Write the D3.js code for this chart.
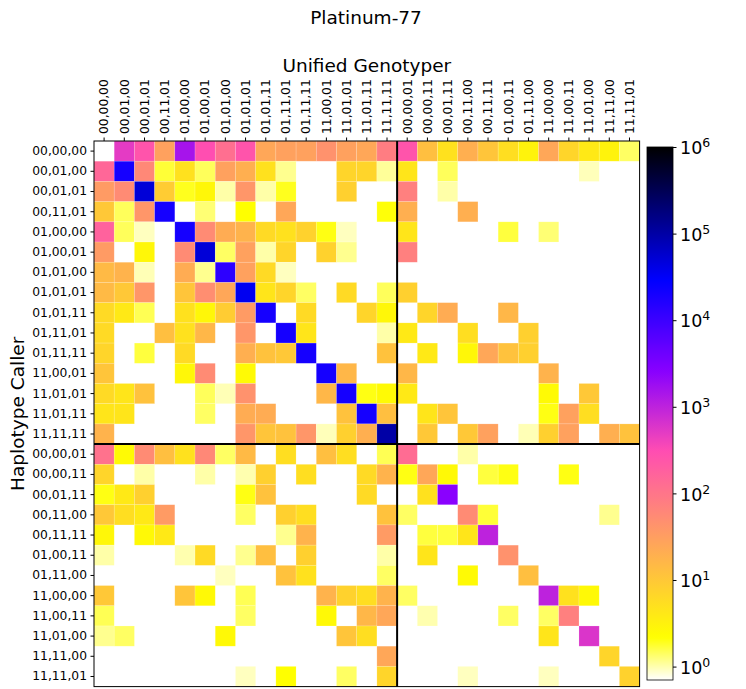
<!DOCTYPE html>
<html>
<head>
<meta charset="utf-8">
<script src="https://cdn.jsdelivr.net/npm/d3@7"></script>
<style>
  body { margin: 0; background: #fff; }
  text { font-family: "DejaVu Sans", sans-serif; }
</style>
</head>
<body>
<svg id="chart"></svg>
<script>
// Genotype concordance heatmap (Haplotype Caller vs Unified Genotyper)
const genotypes = ["00,00,00","00,01,00","00,01,01","00,11,01","01,00,00","01,00,01","01,01,00",
  "01,01,01","01,01,11","01,11,01","01,11,11","11,00,01","11,01,01","11,01,11","11,11,11",
  "00,00,01","00,00,11","00,01,11","00,11,00","00,11,11","01,00,11","01,11,00","11,00,00",
  "11,00,11","11,01,00","11,11,00","11,11,01"];

// rows = Haplotype Caller, columns = Unified Genotyper, 0 = no entry
const counts = [
  [0, 500, 250, 30, 1500, 300, 120, 250, 25, 30, 30, 45, 30, 25, 80, 250, 13, 5, 20, 11, 5.5, 3, 25, 7, 4, 3, 1.4],
  [150, 2e4, 60, 1.7, 5, 1.45, 30, 20, 5, 1.15, 0, 0, 7, 7, 1.1, 4.5, 0, 1.45, 0, 0, 0, 0, 0, 0, 0.95, 0, 0],
  [35, 55, 5e4, 9, 1.9, 2.7, 1.03, 40, 1.03, 1.9, 0, 0, 8, 0, 0, 75, 0, 1.03, 0, 0, 0, 0, 0, 0, 0, 0, 0],
  [10, 1.45, 40, 2e4, 0, 1.3, 0, 2.2, 0, 25, 0, 0, 0, 0, 2.1, 20, 0, 0, 20, 0, 0, 0, 0, 0, 0, 0, 0],
  [170, 1.45, 0.93, 0, 2e4, 55, 22, 18, 6, 5, 7.5, 2, 0.93, 0, 0, 4.5, 0, 0, 0, 0, 1.65, 0, 1.3, 0, 0, 0, 0],
  [35, 0, 2.7, 0, 55, 5e4, 1.4, 30, 1.03, 7, 0, 7.5, 1.15, 0, 0, 75, 0, 0, 0, 0, 0, 0, 0, 0, 0, 0, 0],
  [15, 18, 0.97, 0, 22, 1.15, 1.3e4, 30, 6, 0.93, 0, 0, 0, 0, 0, 0, 0, 0, 0, 0, 0, 0, 0, 0, 0, 0, 0],
  [15, 10, 40, 0, 11, 50, 25, 3.5e4, 4.5, 7, 1.4, 0, 6, 0, 1.45, 8, 0, 0, 0, 0, 0, 0, 0, 0, 0, 0, 0],
  [6, 4, 1.5, 0, 5, 2.7, 9, 35, 2e4, 0, 6, 0, 0, 7, 2.7, 0, 7, 22, 0, 0, 16, 0, 0, 0, 0, 0, 0],
  [6, 0, 0, 13, 5, 16, 0, 40, 0, 2e4, 4.5, 0, 0, 0, 1.03, 4, 0, 0, 5.5, 0, 0, 8, 0, 0, 0, 0, 0],
  [7, 0, 1.65, 0, 6, 0, 0, 20, 12, 10, 2e4, 0, 0, 0, 12, 0, 4, 0, 2.7, 25, 12, 8, 0, 0, 0, 0, 0],
  [11, 0, 0, 0, 2.7, 55, 0, 2.5, 0, 0, 0, 2e4, 16, 0, 0, 16, 0, 0, 0, 0, 0, 0, 18, 0, 0, 0, 0],
  [6, 4.5, 12, 0, 0, 1.45, 0.97, 45, 0, 0, 0, 16, 2e4, 2, 2.5, 4, 0, 0, 0, 0, 0, 0, 2.5, 0, 10, 0, 0],
  [4.5, 4.5, 0, 0, 0, 1.4, 0, 22, 22, 0, 0, 0, 12, 2e4, 13, 0, 4.5, 11, 0, 0, 0, 0, 2, 30, 5.5, 0, 0],
  [18, 0, 0, 0, 0, 0, 0, 40, 11, 12, 40, 0.95, 8, 20, 1e5, 0, 10, 0, 10, 30, 0, 0.97, 8, 30, 0, 20, 12],
  [110, 2.5, 55, 13, 5, 60, 1.4, 15, 0, 5.5, 0, 13, 5.5, 0, 1.5, 130, 0, 0, 1.03, 0, 0, 0, 0, 0, 0, 0, 0],
  [7, 0, 1.03, 0, 0, 1.03, 0, 1.0, 8, 0, 5.5, 0, 0, 6, 18, 2, 25, 2.6, 0, 1.65, 2, 0, 0, 2, 0, 0, 0],
  [2, 4, 8, 0, 0, 0, 0, 2, 12, 0, 0, 0, 0, 6, 0, 0, 5, 2500, 0, 0, 0, 0, 0, 0, 0, 0, 0],
  [10, 5.5, 4, 35, 0, 0, 0, 1.4, 0, 8, 5.5, 0, 0, 0, 12, 1.4, 0, 0, 55, 1.7, 0, 0, 0, 0, 0, 1.15, 0],
  [2.7, 0, 2.6, 4, 0, 0, 0, 0, 0, 1.15, 18, 0, 0, 0, 35, 0, 1.65, 1.65, 4.5, 1000, 0, 0, 0, 0, 0, 0, 0],
  [1.03, 0, 0, 0, 1.0, 6, 0, 1.15, 13, 0, 8, 0, 0, 0, 1.03, 0, 4.5, 0, 0, 0, 45, 0, 0, 0, 0, 0, 0],
  [0, 0, 0, 0, 0, 0, 0.93, 0, 0, 12, 5, 0, 0, 0, 1.4, 0, 0, 0, 2.5, 0, 0, 13, 0, 0, 0, 0, 0],
  [10, 0, 0, 0, 11, 2.6, 0, 1.5, 0, 0, 0, 18, 7.5, 5.5, 18, 1.4, 0, 0, 0, 0, 0, 0, 1000, 5, 2.6, 0, 0],
  [1.5, 0, 0, 0, 0, 0, 0, 1.4, 0, 0, 0, 2.6, 0, 16, 25, 0, 1.0, 0, 0, 0, 1.4, 0, 1.4, 75, 0, 0, 0],
  [1.15, 1.4, 0, 0, 0, 0, 2.6, 0, 0, 0, 0, 0, 11, 5.5, 0, 0, 0, 0, 0, 0, 0, 0, 4.5, 0, 600, 0, 0],
  [0, 0, 0, 0, 0, 0, 0, 0, 0, 0, 0, 0, 0, 0, 25, 0, 0, 0, 0, 0, 0, 0, 0, 0, 0, 7, 0],
  [0, 0, 0, 0, 0, 0, 0, 0.93, 0, 2.2, 0, 0, 1.4, 0, 7, 0, 0, 0, 0.93, 0, 0, 0, 0.93, 0, 0, 0, 7.5]
];

const cbarTicks = [1, 10, 100, 1000, 1e4, 1e5, 1e6];
const vmin = 0.7, vmax = 1e6;
const splitAt = 15;   // first genotype of the second group

const width = 746, height = 689;
const plotLeft = 94, plotTop = 141, size = 545.6;
const cbX = 647, cbW = 26, cbTop = 147, cbBottom = 680;
const tickFont = 12.3, labelFont = 18.5;

// matplotlib gnuplot2, used reversed
function gnuplot2(x) {
  const clip = v => Math.max(0, Math.min(1, v));
  const r = clip(x / 0.32 - 0.78125);
  const g = clip(2 * x - 0.84);
  const b = clip(x < 0.25 ? 4 * x : x < 0.42 ? 1 : x < 0.92 ? -2 * x + 1.84 : x / 0.08 - 11.5);
  return d3.rgb(r * 255, g * 255, b * 255).toString();
}
const color = d3.scaleSequentialLog(t => gnuplot2(1 - t)).domain([vmin, vmax]).clamp(true);

const chart = d3.select("#chart").attr("width", width).attr("height", height);

const x = d3.scaleBand().domain(genotypes).range([plotLeft, plotLeft + size]);
const y = d3.scaleBand().domain(genotypes).range([plotTop, plotTop + size]);

const cells = [];
counts.forEach((row, i) => row.forEach((v, j) => {
  if (v > 0) cells.push({ row: genotypes[i], col: genotypes[j], value: v });
}));

chart.append("g")
  .selectAll("rect")
  .data(cells)
  .join("rect")
  .attr("x", d => x(d.col))
  .attr("y", d => y(d.row))
  .attr("width", x.bandwidth())
  .attr("height", y.bandwidth())
  .attr("fill", d => color(d.value))
  .attr("stroke", "#fff")
  .attr("stroke-opacity", 0.25)
  .attr("stroke-width", 0.6);

// group separators
const sepX = x(genotypes[splitAt]), sepY = y(genotypes[splitAt]);
chart.append("line")
  .attr("x1", sepX).attr("x2", sepX).attr("y1", plotTop).attr("y2", plotTop + size)
  .attr("stroke", "#000").attr("stroke-width", 2);
chart.append("line")
  .attr("x1", plotLeft).attr("x2", plotLeft + size).attr("y1", sepY).attr("y2", sepY)
  .attr("stroke", "#000").attr("stroke-width", 2);

chart.append("rect")
  .attr("x", plotLeft).attr("y", plotTop).attr("width", size).attr("height", size)
  .attr("fill", "none").attr("stroke", "#000").attr("stroke-width", 1);

// axes
const xAxis = chart.append("g")
  .attr("transform", `translate(0,${plotTop})`)
  .call(d3.axisTop(x).tickSize(3.5).tickSizeOuter(0).tickPadding(3.5));
xAxis.select(".domain").remove();
xAxis.selectAll("text")
  .attr("font-size", tickFont)
  .attr("font-family", "DejaVu Sans")
  .attr("transform", "rotate(-90)")
  .attr("x", 7).attr("y", 0).attr("dy", "0.35em")
  .attr("text-anchor", "start");

const yAxis = chart.append("g")
  .attr("transform", `translate(${plotLeft},0)`)
  .call(d3.axisLeft(y).tickSize(3.5).tickSizeOuter(0).tickPadding(3.5));
yAxis.select(".domain").remove();
yAxis.selectAll("text").attr("font-size", tickFont).attr("font-family", "DejaVu Sans");

// titles
chart.append("text")
  .attr("x", width / 2 - 7).attr("y", 24)
  .attr("text-anchor", "middle").attr("font-size", labelFont)
  .text("Platinum-77");
chart.append("text")
  .attr("x", plotLeft + size / 2).attr("y", 72)
  .attr("text-anchor", "middle").attr("font-size", labelFont)
  .text("Unified Genotyper");
chart.append("text")
  .attr("transform", `translate(24,${plotTop + size / 2}) rotate(-90)`)
  .attr("text-anchor", "middle").attr("font-size", labelFont)
  .text("Haplotype Caller");

// colorbar
const cb = d3.scaleLog().domain([vmin, vmax]).range([cbBottom, cbTop]);
const grad = chart.append("defs").append("linearGradient")
  .attr("id", "cbgrad").attr("x1", 0).attr("x2", 0).attr("y1", 1).attr("y2", 0);
d3.range(0, 1.0001, 1 / 128).forEach(t => {
  grad.append("stop").attr("offset", t).attr("stop-color", gnuplot2(1 - t));
});
chart.append("rect")
  .attr("x", cbX).attr("y", cbTop).attr("width", cbW).attr("height", cbBottom - cbTop)
  .attr("fill", "url(#cbgrad)").attr("stroke", "#000").attr("stroke-width", 0.8);

const cbAxis = chart.append("g")
  .attr("transform", `translate(${cbX + cbW},0)`)
  .call(d3.axisRight(cb).tickValues(cbarTicks).tickSize(3.5).tickPadding(3.5).tickFormat(() => ""));
cbAxis.select(".domain").remove();
cbAxis.selectAll(".tick text").each(function(d) {
  const t = d3.select(this)
    .attr("font-size", 17.5).attr("font-family", "DejaVu Sans").attr("dy", "0.38em");
  t.append("tspan").text("10");
  t.append("tspan").attr("dy", "-0.55em").attr("font-size", 12.5).text(Math.round(Math.log10(d)));
});
</script>
</body>
</html>
